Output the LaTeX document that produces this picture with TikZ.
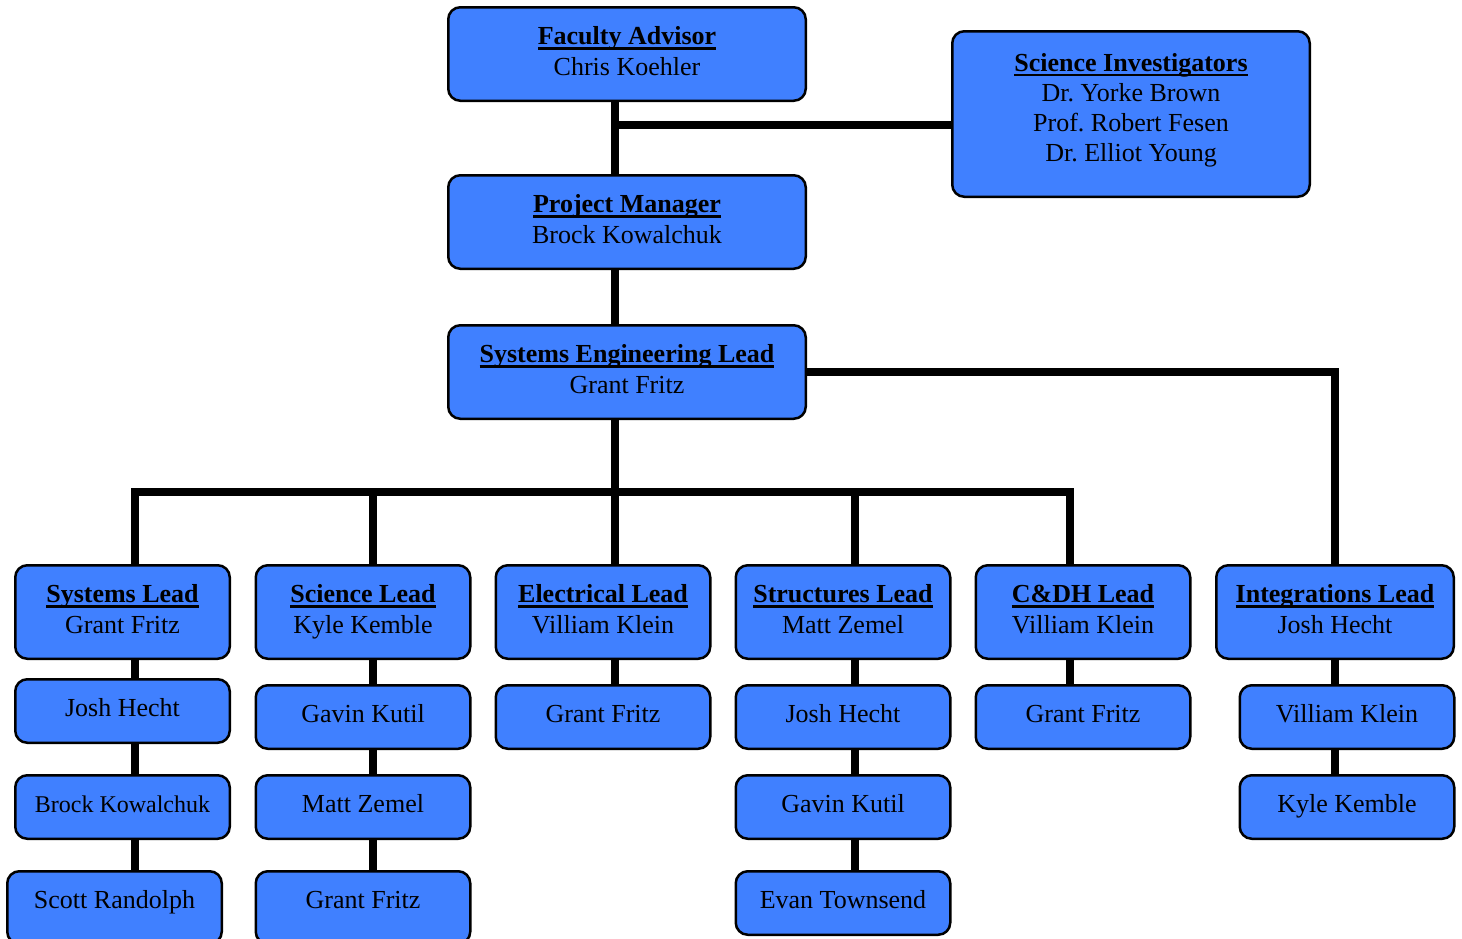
\documentclass[tikz,border=0pt]{standalone}
\usepackage{fontspec}
\setmainfont{Liberation Serif}
\usetikzlibrary{backgrounds}
\definecolor{boxblue}{HTML}{4080FF}
\frenchspacing
\newsavebox{\headbox}
\newcommand{\boxhead}[1]{\sbox\headbox{\bfseries #1}\rlap{\usebox\headbox}\rule[-5pt]{\wd\headbox}{2.5pt}}

\begin{document}
\begin{tikzpicture}[x=1pt,y=-1pt,
    person/.style={draw=black, line width=2.5pt, rounded corners=12pt, fill=boxblue,
        align=center, inner sep=0pt, font=\fontsize{26}{30.3}\selectfont},
    topbox/.style={person, minimum width=357.5pt, minimum height=93.5pt, text depth=6pt},
    lead/.style={person, minimum width=214.5pt, minimum height=93.5pt, text depth=6pt},
    member/.style={person, minimum width=214.5pt, minimum height=63.5pt, text height=18pt, text depth=8pt},
    link/.style={line width=7.5pt}]
    \useasboundingbox (0,0) rectangle (1462,938);
    % top of the chart
    \node[topbox] (fac) at (627,54) {\boxhead{Faculty Advisor}\\Chris Koehler};
    \node[topbox, minimum height=165.5pt, text depth=13pt] (sci) at (1131,114) {\boxhead{Science Investigators}\\Dr. Yorke Brown\\Prof. Robert Fesen\\Dr. Elliot Young};
    \node[topbox] (pm) at (627,222) {\boxhead{Project Manager}\\Brock Kowalchuk};
    \node[topbox] (sel) at (627,372) {\boxhead{Systems Engineering Lead}\\Grant Fritz};
    % leads
    \node[lead] (sysl) at (122.5,612) {\boxhead{Systems Lead}\\Grant Fritz};
    \node[lead] (scil) at (363,612) {\boxhead{Science Lead}\\Kyle Kemble};
    \node[lead] (elel) at (603,612) {\boxhead{Electrical Lead}\\Villiam Klein};
    \node[lead] (strl) at (843,612) {\boxhead{Structures Lead}\\Matt Zemel};
    \node[lead] (cdhl) at (1083,612) {\boxhead{C\&DH Lead}\\Villiam Klein};
    \node[lead, minimum width=237.5pt] (intl) at (1335,612) {\boxhead{Integrations Lead}\\Josh Hecht};
    % team members
    \node[member] (jh1) at (122.5,711) {Josh Hecht};
    \node[member, font=\fontsize{24}{28}\selectfont] (bk1) at (122.5,807) {Brock Kowalchuk};
    \node[member, minimum height=72.5pt, text depth=17pt] (sr1) at (114.5,907.5) {Scott Randolph};
    \node[member] (gk2) at (363,717) {Gavin Kutil};
    \node[member] (mz2) at (363,807) {Matt Zemel};
    \node[member, minimum height=72.5pt, text depth=17pt] (gf2) at (363,907.5) {Grant Fritz};
    \node[member] (gf3) at (603,717) {Grant Fritz};
    \node[member] (jh4) at (843,717) {Josh Hecht};
    \node[member] (gk4) at (843,807) {Gavin Kutil};
    \node[member] (et4) at (843,903) {Evan Townsend};
    \node[member] (gf5) at (1083,717) {Grant Fritz};
    \node[member] (vk6) at (1347,717) {Villiam Klein};
    \node[member] (kk6) at (1347,807) {Kyle Kemble};
    % connectors
    \coordinate (fj) at (615,125);
    \coordinate (bus) at (615,492);
    \coordinate (c1) at (135,492);
    \coordinate (c2) at (373,492);
    \coordinate (c4) at (855,492);
    \coordinate (c5) at (1070,492);
    \begin{scope}[on background layer]
        \draw[link] (fac.south -| fj) -- (pm.north -| fj);
        \draw[link] (fj) -- (fj -| sci.west);
        \draw[link] (pm.south -| fj) -- (sel.north -| fj);
        \draw[link] (sel.east) -| (intl.north);
        \draw[link] (sel.south -| bus) -- (elel.north -| bus);
        \draw[link] (sysl.north -| c1) |- (c5) -- (cdhl.north -| c5);
        \draw[link] (c2) -- (scil.north -| c2);
        \draw[link] (c4) -- (strl.north -| c4);
        \draw[link] (sysl.south -| c1) -- (sr1.north -| c1);
        \draw[link] (scil.south -| c2) -- (gf2.north -| c2);
        \draw[link] (elel.south -| bus) -- (gf3.north -| bus);
        \draw[link] (strl.south -| c4) -- (et4.north -| c4);
        \draw[link] (cdhl.south -| c5) -- (gf5.north -| c5);
        \draw[link] (intl.south) -- (kk6.north -| intl.south);
    \end{scope}
\end{tikzpicture}
\end{document}
